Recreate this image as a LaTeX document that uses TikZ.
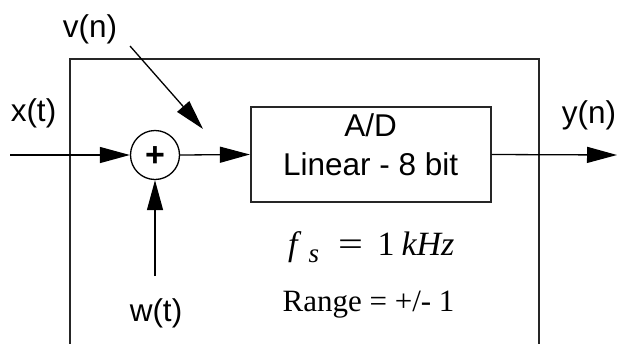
\documentclass[tikz,border=0pt]{standalone}
\usepackage{fontspec}
\usepackage{graphicx}
\setmainfont{Liberation Serif}
\newfontfamily\labelfont{Liberation Sans}
\newfontfamily\plusfont{Liberation Sans Bold}
\usetikzlibrary{arrows.meta}
\tikzset{
  sig/.style={line width=1.3pt, -{Triangle[length=30pt,width=16pt]}},
  frame/.style={line width=1.6pt, draw=black!85},
  lbl/.style={font=\labelfont\fontsize{31.5}{36}\selectfont, inner sep=0pt, anchor=base},
  serif/.style={font=\fontsize{31}{36}\selectfont, inner sep=0pt, anchor=base},
}
\begin{document}
\begin{tikzpicture}[x=1pt,y=-1pt]
\useasboundingbox (0,0) rectangle (617,343);
% outer box (open at bottom)
\draw[frame] (70,345) -- (70,59) -- (539,59) -- (539,345);
% A/D box
\node[frame, draw, minimum width=240pt, minimum height=95pt, inner sep=0pt] (adc) at (370.7,154.5) {};
\node[lbl] (adtxt) at (370.7,136) {A/D};
\node[lbl] (lintxt) at (370.7,175) {Linear - 8 bit};
% summing junction
\node[circle, draw, line width=1.3pt, minimum size=49pt, inner sep=0pt] (sum) at (155,155) {};
\node[font=\plusfont\fontsize{34}{34}\selectfont, inner sep=0pt, anchor=base] (plus) at (155,166.5) {+};
% coordinates
\coordinate (xin) at (10,155);
\coordinate (wst) at (155,276);
\coordinate (vst) at (130,46);
\coordinate (vend) at (203,129);
\coordinate (yout) at (617,155);
% connectors
\draw[sig] (xin) -- (sum.west);
\draw[sig] (wst) -- (sum.south);
\draw[sig] (sum.east) -- (adc.west);
\draw[sig] (vst) -- (vend);
\draw[sig] (adc.east) -- (yout);
% labels
\node[lbl] (xl) at (33.5,121) {x(t)};
\node[lbl] (vl) at (90,37) {v(n)};
\node[lbl] (yl) at (589,123) {y(n)};
\node[lbl] (wl) at (156,321) {w(t)};
\node[serif, anchor=base west, font=\fontsize{34}{40}\selectfont] (fs) at (288,255) {\itshape f\hspace{11pt}\raisebox{-7pt}{\fontsize{27}{27}\selectfont s}\hspace{19pt}\upshape\scalebox{1.3}[1]{=}\hspace{14.5pt}1\hspace{7pt}\itshape kHz};
\node[serif] (rng) at (368.5,311) {Range = +/- 1};
\end{tikzpicture}
\end{document}
